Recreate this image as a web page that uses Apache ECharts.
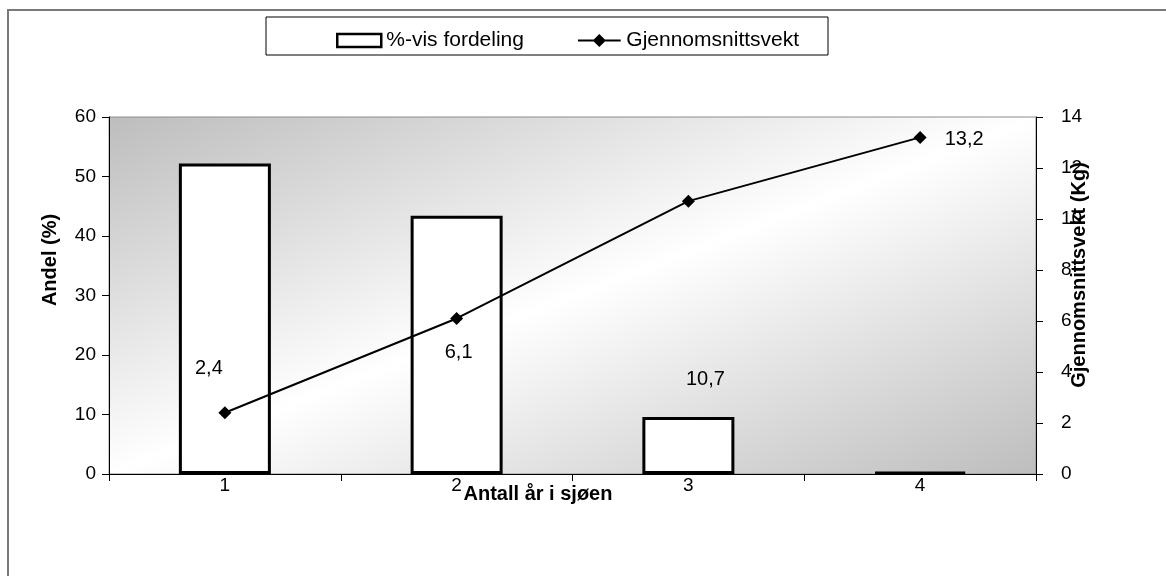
<!DOCTYPE html>
<html>
<head>
<meta charset="utf-8">
<script src="https://cdn.jsdelivr.net/npm/echarts@6/dist/echarts.min.js"></script>
<style>
  html, body { margin: 0; padding: 0; background: #ffffff; }
  #chart { width: 1166px; height: 576px; }
</style>
</head>
<body>
<div id="chart"></div>
<script>
// Years at sea
const categories = ['1', '2', '3', '4'];
// Percentage distribution (left axis)
const shareValues = [52.2, 43.4, 9.6, 0.3];
// Average weight in kg (right axis)
const weightValues = [2.4, 6.1, 10.7, 13.2];
// Text shown for each weight point
const weightLabels = ['2,4', '6,1', '10,7', '13,2'];

const seriesNames = ['%-vis fordeling', 'Gjennomsnittsvekt'];
const leftAxisTitle = 'Andel (%)';
const rightAxisTitle = 'Gjennomsnittsvekt (Kg)';
const xAxisTitle = 'Antall år i sjøen';

// Label placement around each weight marker, in pixels
const labelOffsets = [[-16, -44], [2, 34], [17, 178], [44, 2]];

const FONT = '"Liberation Sans", Arial, sans-serif';

// Line-with-diamond legend glyph
const lineMarkerIcon = 'path://M0,5.9 L17,5.9 L23,0 L29,5.9 L46,5.9 L46,8.1 L29,8.1 L23,14 L17,8.1 L0,8.1 Z';

const chart = echarts.init(document.getElementById('chart'), null, { renderer: 'canvas' });

const plotFill = {
  type: 'linear',
  x: 0, y: 0, x2: 0.258, y2: 1.742,
  colorStops: [
    { offset: 0, color: '#bdbdbd' },
    { offset: 0.5, color: '#ffffff' },
    { offset: 1, color: '#bdbdbd' }
  ]
};

const option = {
  animation: false,
  backgroundColor: '#ffffff',
  textStyle: { fontFamily: FONT },
  grid: {
    left: 109, right: 130, top: 117, bottom: 102,
    show: true,
    backgroundColor: plotFill,
    borderColor: '#8c8c8c',
    borderWidth: 1
  },
  legend: {
    left: 331, top: 25,
    itemGap: 54,
    itemWidth: 44, itemHeight: 13,
    textStyle: { fontFamily: FONT, fontSize: 21, color: '#000' },
    data: [
      { name: seriesNames[0], icon: 'rect',
        itemStyle: { color: '#ffffff', borderColor: '#000', borderWidth: 2.5 } },
      { name: seriesNames[1], icon: lineMarkerIcon,
        itemStyle: { color: '#000', borderWidth: 0 } }
    ]
  },
  xAxis: {
    type: 'category',
    data: categories,
    axisLine: { lineStyle: { color: '#000', width: 1 } },
    axisTick: { show: true, length: 7, interval: 0, lineStyle: { color: '#000' } },
    axisLabel: { fontFamily: FONT, fontSize: 19, color: '#000', margin: 2 },
    splitLine: { show: false }
  },
  yAxis: [
    {
      type: 'value', min: 0, max: 60, interval: 10,
      axisLine: { show: true, lineStyle: { color: '#000', width: 1 } },
      axisTick: { show: true, length: 7, lineStyle: { color: '#000' } },
      axisLabel: { fontFamily: FONT, fontSize: 19, color: '#000', margin: 13 },
      splitLine: { show: false }
    },
    {
      type: 'value', min: 0, max: 14, interval: 2,
      position: 'right',
      axisLine: { show: true, lineStyle: { color: '#000', width: 1 } },
      axisTick: { show: true, length: 7, lineStyle: { color: '#000' } },
      axisLabel: { fontFamily: FONT, fontSize: 19, color: '#000', margin: 25 },
      splitLine: { show: false }
    }
  ],
  series: [
    {
      name: seriesNames[0],
      type: 'bar',
      yAxisIndex: 0,
      barWidth: 92,
      data: shareValues,
      itemStyle: { color: '#ffffff', borderColor: '#000', borderWidth: 3 }
    },
    {
      name: seriesNames[1],
      type: 'line',
      yAxisIndex: 1,
      data: weightValues.map((v, i) => ({
        value: v,
        label: { offset: labelOffsets[i] }
      })),
      symbol: 'diamond',
      symbolSize: 13,
      lineStyle: { color: '#000', width: 2 },
      itemStyle: { color: '#000' },
      label: {
        show: true,
        position: 'inside',
        fontFamily: FONT, fontSize: 20, color: '#000',
        formatter: (p) => weightLabels[p.dataIndex]
      }
    }
  ],
  graphic: [
    // outer chart frame
    { type: 'rect', z: -1, shape: { x: 8, y: 10, width: 1200, height: 620 },
      style: { fill: 'none', stroke: '#7a7a7a', lineWidth: 2 } },
    // legend frame
    { type: 'rect', shape: { x: 266, y: 17, width: 562, height: 38 },
      style: { fill: 'none', stroke: '#000', lineWidth: 1 } },
    { type: 'text', x: 50, y: 260, rotation: Math.PI / 2,
      style: { text: leftAxisTitle, font: 'bold 20px ' + FONT, fill: '#000',
               align: 'center', verticalAlign: 'middle' } },
    { type: 'text', x: 1079, y: 275, rotation: Math.PI / 2,
      style: { text: rightAxisTitle, font: 'bold 20px ' + FONT, fill: '#000',
               align: 'center', verticalAlign: 'middle' } },
    { type: 'text', x: 538, y: 494,
      style: { text: xAxisTitle, font: 'bold 20px ' + FONT, fill: '#000',
               align: 'center', verticalAlign: 'middle' } }
  ]
};

chart.setOption(option);
</script>
</body>
</html>
